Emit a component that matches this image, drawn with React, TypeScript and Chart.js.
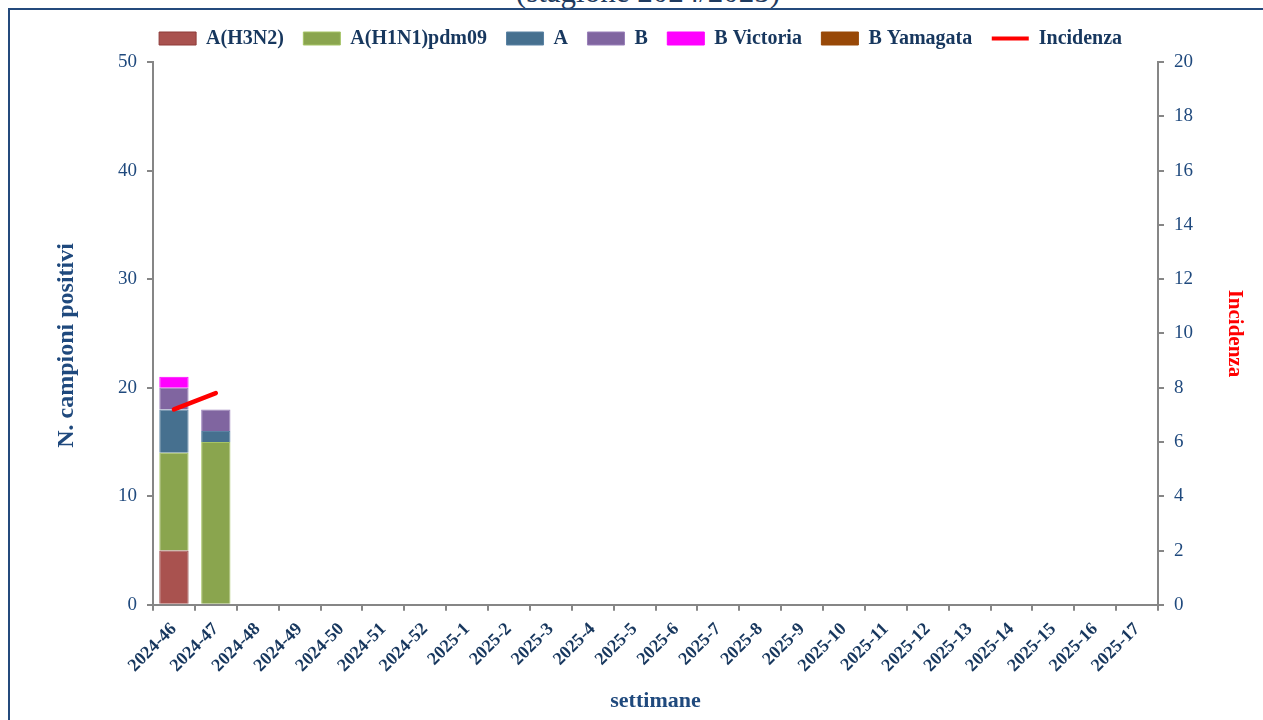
import React, { useEffect, useRef } from 'react';
import { Chart, registerables } from 'chart.js';

Chart.register(...registerables);

const categories = [
  '2024-46', '2024-47', '2024-48', '2024-49', '2024-50', '2024-51', '2024-52',
  '2025-1', '2025-2', '2025-3', '2025-4', '2025-5', '2025-6', '2025-7', '2025-8',
  '2025-9', '2025-10', '2025-11', '2025-12', '2025-13', '2025-14', '2025-15',
  '2025-16', '2025-17',
];

const N = null;
const h3n2 = [5, 0, N, N, N, N, N, N, N, N, N, N, N, N, N, N, N, N, N, N, N, N, N, N];
const h1n1 = [9, 15, N, N, N, N, N, N, N, N, N, N, N, N, N, N, N, N, N, N, N, N, N, N];
const fluA = [4, 1, N, N, N, N, N, N, N, N, N, N, N, N, N, N, N, N, N, N, N, N, N, N];
const fluB = [2, 2, N, N, N, N, N, N, N, N, N, N, N, N, N, N, N, N, N, N, N, N, N, N];
const bVictoria = [1, 0, N, N, N, N, N, N, N, N, N, N, N, N, N, N, N, N, N, N, N, N, N, N];
const bYamagata = [0, 0, N, N, N, N, N, N, N, N, N, N, N, N, N, N, N, N, N, N, N, N, N, N];
const incidenza = [7.2, 7.8, N, N, N, N, N, N, N, N, N, N, N, N, N, N, N, N, N, N, N, N, N, N];

const leftTicksMax = 50;
const leftTicksStep = 10;
const rightTicksMax = 20;
const rightTicksStep = 2;

const SERIF = '"Liberation Serif", "Times New Roman", "DejaVu Serif", serif';
const NAVY = '#17375E';
const TICK_BLUE = '#1F497D';
const GRAY = '#868686';
const LEGEND_EXTRA = 3.5;
const LEGEND_SHIFT = -9;
const NBSP = '\u00A0';

const legendGap = {
  id: 'legendGap',
  beforeInit(chart: any) {
    const lg = chart.legend;
    if (!lg) return;
    const orig = lg.fit;
    lg.fit = function () {
      orig.call(this);
      this.height += LEGEND_EXTRA;
    };
  },
  afterLayout(chart: any) {
    const lg = chart.legend;
    if (!lg) return;
    lg.left += LEGEND_SHIFT;
    lg.right += LEGEND_SHIFT;
  },
};

export default function App() {
  const ref = useRef<HTMLCanvasElement | null>(null);

  useEffect(() => {
    if (!ref.current) return;
    const chart = new Chart(ref.current, {
      type: 'bar',
      data: {
        labels: categories,
        datasets: [
          { label: 'A(H3N2)', data: h3n2, backgroundColor: '#A9524F', borderColor: '#8E3B39', borderWidth: 1, order: 1, yAxisID: 'y' },
          { label: 'A(H1N1)pdm09', data: h1n1, backgroundColor: '#8AA54E', borderColor: '#A6C466', borderWidth: 1, order: 1, yAxisID: 'y' },
          { label: 'A', data: fluA, backgroundColor: '#46708F', borderColor: '#5A82A3', borderWidth: 1, order: 1, yAxisID: 'y' },
          { label: 'B', data: fluB, backgroundColor: '#8065A0', borderColor: '#9A80BA', borderWidth: 1, order: 1, yAxisID: 'y' },
          { label: 'B Victoria', data: bVictoria, backgroundColor: '#FF00FF', borderColor: '#FF00FF', borderWidth: 1, order: 1, yAxisID: 'y' },
          { label: 'B Yamagata', data: bYamagata, backgroundColor: '#984807', borderColor: '#984807', borderWidth: 1, order: 1, yAxisID: 'y' },
          {
            type: 'line', label: 'Incidenza', data: incidenza, borderColor: '#FF0000', backgroundColor: '#FF0000',
            borderWidth: 4.5, pointRadius: 0, pointHoverRadius: 0, borderCapStyle: 'round', order: 0, yAxisID: 'y1',
            spanGaps: false,
          } as any,
        ],
      },
      options: {
        animation: false,
        responsive: true,
        maintainAspectRatio: false,
        layout: { padding: { top: 9, left: 48.6, right: 12.4, bottom: 1 } },
        datasets: { bar: { barPercentage: 0.7, categoryPercentage: 1 } } as any,
        plugins: {
          tooltip: { enabled: false },
          legend: {
            display: true,
            position: 'top',
            labels: {
              usePointStyle: true,
              pointStyleWidth: 37,
              boxWidth: 37,
              boxHeight: 13,
              padding: 19.5,
              color: NAVY,
              font: { family: SERIF, size: 20, weight: 'bold' },
              sort: (a: any, b: any) => a.datasetIndex - b.datasetIndex,
              generateLabels: (c: any) => {
                const items = (Chart.defaults.plugins.legend.labels as any).generateLabels(c);
                return items.map((it: any) => ({
                  ...it,
                  pointStyle: it.datasetIndex === 6 ? 'line' : 'rect',
                  lineWidth: it.datasetIndex === 6 ? 4 : 1,
                }));
              },
            },
          },
        },
        scales: {
          x: {
            stacked: true,
            offset: true,
            grid: { display: true, drawOnChartArea: false, drawTicks: true, tickLength: 6, offset: true, color: GRAY, lineWidth: 2 },
            border: { display: true, color: GRAY, width: 2 },
            ticks: {
              autoSkip: false, minRotation: 45, maxRotation: 45, padding: 8,
              color: NAVY, font: { family: SERIF, size: 18, weight: 'bold' },
            },
            title: { display: true, text: 'settimane', color: TICK_BLUE, font: { family: SERIF, size: 22, weight: 'bold' }, padding: { top: 4, bottom: 4 } },
            afterFit: (s: any) => { s.height = 114.2; },
          },
          y: {
            stacked: true,
            position: 'left',
            min: 0,
            max: leftTicksMax,
            grid: { display: true, drawOnChartArea: false, drawTicks: true, tickLength: 6, color: GRAY, lineWidth: 2 },
            border: { display: true, color: GRAY, width: 2 },
            ticks: { stepSize: leftTicksStep, padding: 10, color: TICK_BLUE, font: { family: SERIF, size: 19 } },
            title: {
              display: true, text: 'N. campioni positivi' + NBSP + NBSP + NBSP + NBSP, color: TICK_BLUE,
              font: { family: SERIF, size: 24, weight: 'bold' }, padding: { top: 4, bottom: 4 },
            },
            afterFit: (s: any) => { s.width = 104.4; },
          },
          y1: {
            position: 'right',
            min: 0,
            max: rightTicksMax,
            grid: { display: true, drawOnChartArea: false, drawTicks: true, tickLength: 6, color: GRAY, lineWidth: 2 },
            border: { display: true, color: GRAY, width: 2 },
            ticks: { stepSize: rightTicksStep, padding: 10, color: TICK_BLUE, font: { family: SERIF, size: 19 } },
            title: { display: true, text: 'Incidenza', color: '#FF0000', font: { family: SERIF, size: 21, weight: 'bold' }, padding: { top: 4, bottom: 4 } },
            afterFit: (s: any) => { s.width = 92.6; },
          },
        },
      } as any,
      plugins: [legendGap],
    });
    return () => chart.destroy();
  }, []);

  return (
    <div style={{ position: 'fixed', left: 0, top: 0, width: 1263, height: 720, overflow: 'hidden', background: '#fff' }}>
      <div style={{ position: 'absolute', left: 0, top: 0, width: 1263, height: 8, overflow: 'hidden' }}>
        <div
          style={{
            position: 'absolute', left: 648, top: -24, transform: 'translateX(-50%)', whiteSpace: 'nowrap',
            fontFamily: SERIF, fontSize: 31, lineHeight: '31px', color: '#1F3B5F',
          }}
        >
          (stagione 2024/2025)
        </div>
      </div>
      <div
        style={{
          position: 'absolute', left: 8, top: 8, width: 1400, height: 900,
          border: '2px solid #244A7C', boxSizing: 'border-box',
        }}
      />
      <div style={{ position: 'absolute', left: 0, top: 0, width: 1263, height: 720 }}>
        <canvas ref={ref} />
      </div>
    </div>
  );
}
